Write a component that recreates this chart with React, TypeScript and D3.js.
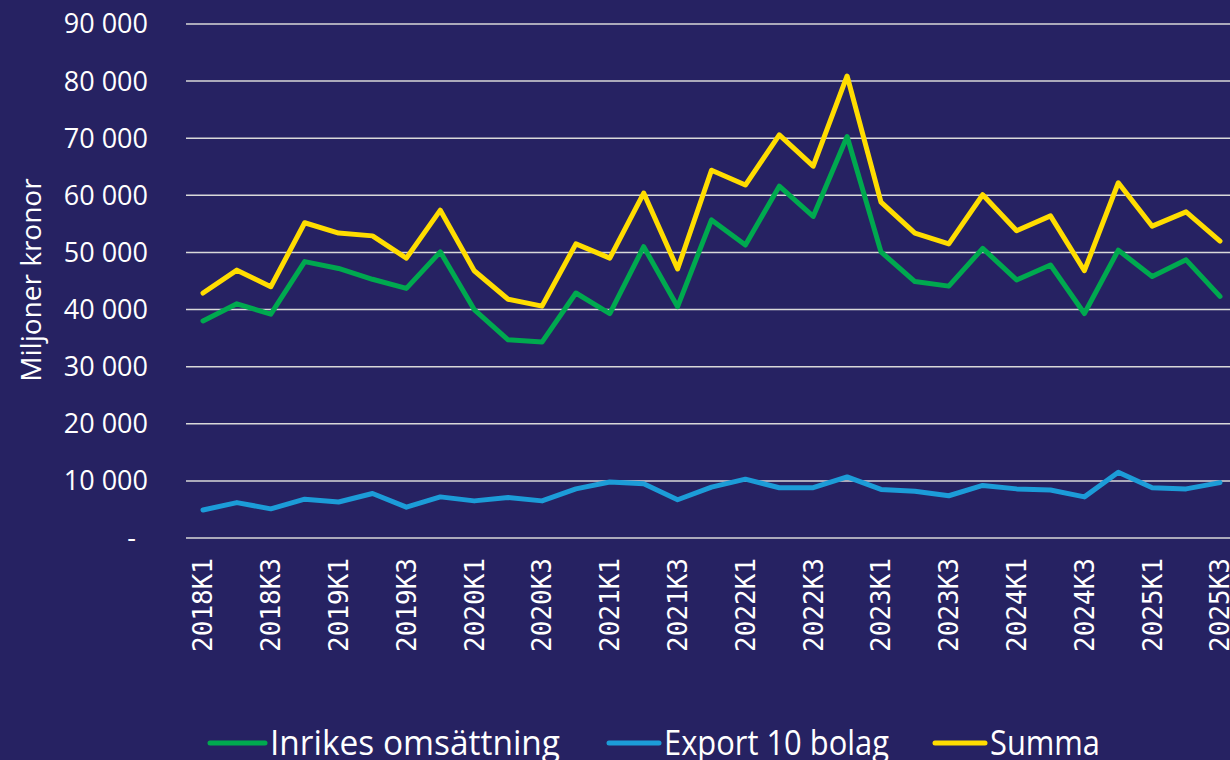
import React from "react";
import * as d3 from "d3";

const categories = [
  "2018K1","2018K2","2018K3","2018K4",
  "2019K1","2019K2","2019K3","2019K4",
  "2020K1","2020K2","2020K3","2020K4",
  "2021K1","2021K2","2021K3","2021K4",
  "2022K1","2022K2","2022K3","2022K4",
  "2023K1","2023K2","2023K3","2023K4",
  "2024K1","2024K2","2024K3","2024K4",
  "2025K1","2025K2","2025K3",
];

const inrikes = [38000, 41000, 39200, 48400, 47200, 45300, 43700, 50100, 40000, 34700, 34300, 42900, 39300, 51000, 40500, 55700, 51300, 61600, 56300, 70300, 50100, 44900, 44100, 50700, 45200, 47800, 39300, 50400, 45800, 48700, 42300];
const exportTio = [4900, 6200, 5100, 6800, 6300, 7800, 5400, 7200, 6500, 7100, 6500, 8600, 9800, 9500, 6700, 8900, 10300, 8800, 8800, 10700, 8500, 8200, 7400, 9200, 8600, 8400, 7200, 11500, 8800, 8600, 9700];
const summa = [42900, 46900, 44000, 55200, 53400, 52900, 49000, 57400, 46800, 41800, 40600, 51500, 49000, 60400, 47100, 64400, 61800, 70600, 65100, 80900, 58800, 53400, 51500, 60100, 53800, 56400, 46800, 62200, 54600, 57100, 52000];

const yTicks = [0, 10000, 20000, 30000, 40000, 50000, 60000, 70000, 80000, 90000];

const seriesNames = ["Inrikes omsättning", "Export 10 bolag", "Summa"];
const seriesColors = ["#00A94F", "#1C9CD8", "#FFDD00"];
const seriesValues = [inrikes, exportTio, summa];

const W = 1230;
const H = 760;
const BG = "#262262";

export default function App() {
  const x = d3.scalePoint<string>().domain(categories).range([203, 1220]);
  const y = d3.scaleLinear().domain([0, 90000]).range([538, 24]);
  const line = d3
    .line<number>()
    .x((_, i) => x(categories[i]) as number)
    .y((d) => y(d));

  const fmt = (v: number) =>
    v === 0 ? "-" : d3.format(",")(v).replace(/,/g, " ");

  const legendItems = [
    { name: seriesNames[0], color: seriesColors[0], x0: 210, x1: 265, tx: 270, len: 290 },
    { name: seriesNames[1], color: seriesColors[1], x0: 609, x1: 659, tx: 664, len: 225 },
    { name: seriesNames[2], color: seriesColors[2], x0: 935, x1: 985, tx: 990, len: 110 },
  ];

  return (
    <div style={{ position: "fixed", left: 0, top: 0, width: W, height: H }}>
      <svg width={W} height={H} style={{ display: "block" }}>
        <rect width={W} height={H} fill={BG} />
        {yTicks.map((t) => (
          <g key={t}>
            <line x1={186} x2={1230} y1={y(t)} y2={y(t)} stroke="#D9D9D9" strokeWidth={1.5} />
            <text
              x={t === 0 ? 136 : 148}
              y={y(t)}
              dy="0.35em"
              textAnchor="end"
              fill="#FFFFFF"
              fontFamily="'Open Sans', sans-serif"
              fontSize={27}
            >
              {fmt(t)}
            </text>
          </g>
        ))}
        <text
          transform={`translate(41,280) rotate(-90)`}
          textAnchor="middle"
          fill="#FFFFFF"
          fontFamily="'Open Sans', sans-serif"
          fontSize={28}
        >
          Miljoner kronor
        </text>
        {categories.map((c, i) =>
          i % 2 === 0 ? (
            <text
              key={c}
              transform={`translate(${x(c)},${558}) rotate(-90)`}
              textAnchor="end"
              dy="0.36em"
              fill="#FFFFFF"
              fontFamily="'DejaVu Sans Mono', monospace"
              fontSize={26}
            >
              {c}
            </text>
          ) : null
        )}
        {seriesValues.map((vals, k) => (
          <path
            key={k}
            d={line(vals) || ""}
            fill="none"
            stroke={seriesColors[k]}
            strokeWidth={5}
            strokeLinejoin="round"
            strokeLinecap="round"
          />
        ))}
        {legendItems.map((it) => (
          <g key={it.name}>
            <line x1={it.x0} x2={it.x1} y1={743} y2={743} stroke={it.color} strokeWidth={5} strokeLinecap="round" />
            <text
              x={it.tx}
              y={743}
              dy="0.36em"
              fill="#FFFFFF"
              fontFamily="'Open Sans', sans-serif"
              fontSize={34}
              textLength={it.len}
              lengthAdjust="spacingAndGlyphs"
            >
              {it.name}
            </text>
          </g>
        ))}
      </svg>
    </div>
  );
}
